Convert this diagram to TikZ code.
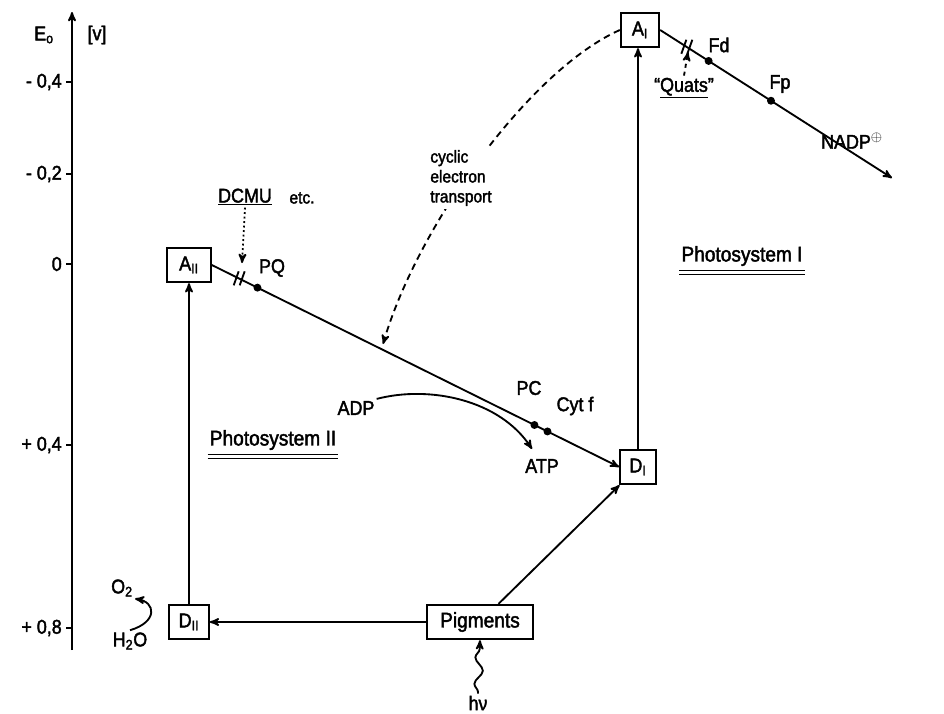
\documentclass[tikz,border=0pt]{standalone}
\usepackage{fontspec}
\setmainfont{Liberation Sans}[FakeStretch=0.9,FakeBold=2]
\usetikzlibrary{arrows,decorations.pathmorphing}

\tikzset{BoxStyle/.style = {draw,minimum height=26pt,inner sep=3pt,
                            font=\fontsize{15}{17}\selectfont},
         LabelStyle/.style = {font=\fontsize{15}{17}\selectfont,inner sep=1pt},
         BigLabel/.style = {font=\fontsize{16}{18}\selectfont,inner sep=1pt},
         DotStyle/.style = {circle,fill,inner sep=0pt,minimum size=6pt}}

\begin{document}
\begin{tikzpicture}[x=0.0265cm,y=-0.0265cm,>=stealth',line width=1.4pt]
\useasboundingbox (0,0) rectangle (944,713);

% redox potential axis
\draw[->] (72,650) -- (72,12);
\foreach \y/\v in {82/{- 0,4},174/{- 0,2},264/0,445/{+ 0,4},628/{+ 0,8}}{
  \draw (66,\y) -- (72,\y);
  \node[LabelStyle,anchor=east] (tick\y) at (64,\y) {\v};
}
\node[LabelStyle] (Eo) at (44,35) {E\textsubscript{o}};
\node[LabelStyle] (unit) at (97,35) {[v]};

% carriers
\node[BoxStyle,minimum width=29pt] (AI)  at (640,30)  {A\textsubscript{I}};
\node[BoxStyle,minimum width=33pt] (AII) at (189,265) {A\textsubscript{II}};
\node[BoxStyle,minimum width=27pt] (DI)  at (638,467) {D\textsubscript{I}};
\node[BoxStyle,minimum width=30pt] (DII) at (189,622) {D\textsubscript{II}};
\node[BoxStyle,minimum width=80pt,font=\fontsize{16}{18}\selectfont] (Pig) at (480,622) {Pigments};
\node[LabelStyle] (hv) at (478,703) {hν};

\draw[->] (DII) -- (AII);
\draw[->] (DI.north) -- (DI.north |- AI.south);
\draw[->] (Pig) -- (DII);
\draw[->] (Pig) -- (DI);
\draw[->,decorate,decoration={snake,amplitude=3pt,segment length=20pt,
      pre length=1pt,post length=6pt}] (hv.north) -- (Pig.south);

% water splitting
\node[LabelStyle] (O2)  at (122,588) {O\textsubscript{2}};
\node[LabelStyle] (H2O) at (130,641) {H\textsubscript{2}O};
\draw[->] (H2O.north) .. controls (158,622) and (156,602) .. (O2.south east);

% electron transport chain
\draw[->] (AII.east) -- (DI.west)
   coordinate[pos=0.066] (sII)
   node[DotStyle,pos=0.112] (PQdot) {}
   node[DotStyle,pos=0.792] (PCdot) {}
   node[DotStyle,pos=0.824] (Cytdot) {};
\coordinate (NADPend) at (892,178);
\draw[->] (AI.east) -- (NADPend)
   coordinate[pos=0.113] (sI)
   node[DotStyle,pos=0.209] (Fddot) {}
   node[DotStyle,pos=0.478] (Fpdot) {};
\foreach \s in {sII,sI}{
  \draw ([shift={(-5,7)}]\s) -- ([shift={(0,-7)}]\s);
  \draw ([shift={(1,7)}]\s) -- ([shift={(6,-7)}]\s);
}

\node[LabelStyle] (PQ)   at (272,268) {PQ};
\node[LabelStyle] (PC)   at (529,388) {PC};
\node[LabelStyle] (Cytf) at (575,406) {Cyt f};
\node[LabelStyle] (Fd)   at (719,45)  {Fd};
\node[LabelStyle] (Fp)   at (780,84)  {Fp};
\node[LabelStyle] (NADP) at (852,141) {NADP\textsuperscript{$\oplus$}};

% photophosphorylation
\node[LabelStyle] (ADP) at (356,408) {ADP};
\node[LabelStyle] (ATP) at (542,466) {ATP};
\coordinate (ATPtip) at (532,449);
\draw[->] (ADP.north east) .. controls (430,385) and (500,400) .. (ATPtip);

% inhibitors
\node[LabelStyle] (DCMU) at (245,197) {\underline{DCMU}};
\node[LabelStyle,font=\fontsize{13}{15}\selectfont] (etc) at (302,198) {etc.};
\coordinate (DCMUtip) at (242,263);
\draw[->,dotted] (DCMU.south) -- (DCMUtip);
\node[LabelStyle] (Quats) at (684,88) {``\underline{Quats}''};
\coordinate (Quatstip) at (688,52);
\draw[->,dashed] (Quats.north) -- (Quatstip);

% cyclic electron transport
\draw[->,dash pattern=on 5pt off 3.5pt] (AI.west) .. controls (530,70) and (418,225) .. (383,344);
\node[font=\fontsize{13}{15}\selectfont,fill=white,align=left,inner sep=2pt]
   (cyclic) at (461,178) {cyclic\\electron\\transport};

% photosystems
\node[BigLabel] (PSI)  at (742,256) {Photosystem I};
\node[BigLabel] (PSII) at (273,440) {Photosystem II};
\foreach \p in {PSI,PSII}{
  \draw[line width=0.9pt] ([yshift=-2pt]\p.south west) -- ([yshift=-2pt]\p.south east);
  \draw[line width=0.9pt] ([yshift=-4.5pt]\p.south west) -- ([yshift=-4.5pt]\p.south east);
}
\end{tikzpicture}
\end{document}
